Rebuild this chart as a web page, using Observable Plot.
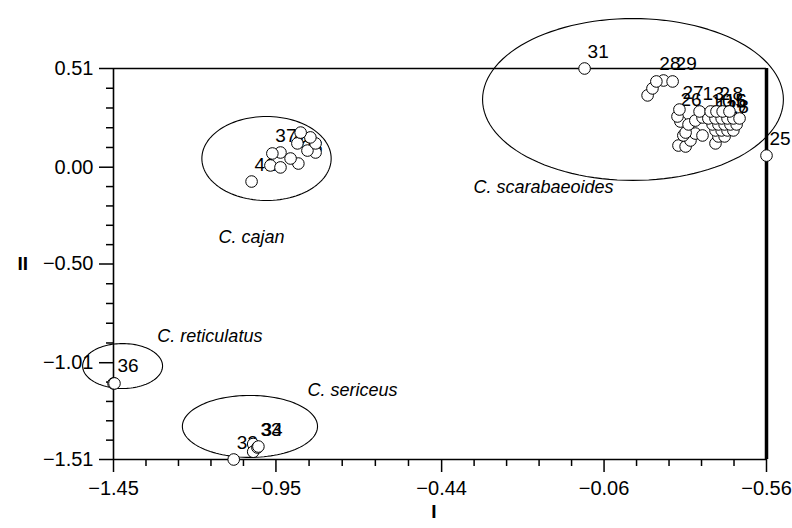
<!DOCTYPE html>
<html><head><meta charset="utf-8">
<script src="https://cdn.jsdelivr.net/npm/d3@7"></script>
<script src="https://cdn.jsdelivr.net/npm/@observablehq/plot@0.6"></script>
<style>html,body{margin:0;padding:0;background:#fff;}</style>
</head><body><div id="chart"></div>
<script>
// Axis ticks
const xTickValues = [-1.45, -0.95, -0.44, 0.06, 0.56];
const xTickLabels = ["\u22121.45", "\u22120.95", "\u22120.44", "\u22120.06", "\u22120.56"];
const yTickValues = [0.51, 0.00, -0.50, -1.01, -1.51];
const yTickLabels = ["0.51", "0.00", "\u22120.50", "\u22121.01", "\u22121.51"];
const xTitle = "I";
const yTitle = "II";

// Accessions (draw order), principal components I and II
const pointId = [
  "","36",
  "32","","","33","34",
  "41","","","38","39","","","","","","","","37",
  "31","25",
  "","","","28","29",
  "","","","","","","","","","","","","26","27",
  "","","","9","","7","12","","18","","","10","","15","","6","","1","3","2","","8"
];
const pointPC1 = [
  -1.45,-1.447,
  -1.08,-1.02,-1.02,-1.007,-1.004,
  -1.025,-0.967,-0.936,-0.881,-0.905,-0.828,-0.853,-0.884,-0.828,-0.844,-0.874,-0.936,-0.961,
  0.00,0.56,
  0.194,0.209,0.243,0.221,0.271,
  0.289,0.311,0.403,0.326,0.304,0.341,0.363,0.311,0.295,0.320,0.341,0.363,0.286,0.292,
  0.412,0.431,0.403,0.422,0.440,0.458,0.394,0.412,0.431,0.449,0.468,0.381,0.403,0.422,0.440,0.458,0.477,0.354,0.388,0.406,0.425,0.446
];
const pointPC2 = [
  -1.117,-1.117,
  -1.51,-1.43,-1.47,-1.448,-1.443,
  -0.074,0.009,-0.001,0.019,0.045,0.076,0.086,0.123,0.123,0.154,0.179,0.076,0.071,
  0.51,0.06,
  0.371,0.407,0.448,0.443,0.443,
  0.112,0.107,0.123,0.138,0.164,0.174,0.164,0.179,0.236,0.221,0.241,0.257,0.262,0.298,
  0.159,0.159,0.190,0.190,0.190,0.190,0.221,0.221,0.221,0.221,0.221,0.252,0.252,0.252,0.252,0.252,0.252,0.288,0.288,0.288,0.288,0.288
];

// Species groups: ellipse centre / radii (in PC units) and label anchor
const groupName = ["C. scarabaeoides", "C. cajan", "C. reticulatus", "C. sericeus"];
const ellipseCx = [0.149, -0.979, -1.422, -1.030];
const ellipseCy = [0.350, 0.045, -1.027, -1.339];
const ellipseRx = [0.463, 0.199, 0.123, 0.208];
const ellipseRy = [0.418, 0.217, 0.116, 0.160];
const labelPC1 = [-0.342, -1.127, -1.315, -0.853];
const labelPC2 = [-0.131, -0.389, -0.905, -1.184];

const points = pointId.map((id, i) => ({id, x: pointPC1[i], y: pointPC2[i]}));
const ellipsePts = groupName.flatMap((g, k) =>
  d3.range(0, 361, 3).map(a => ({g,
    x: ellipseCx[k] + ellipseRx[k] * Math.cos(a * Math.PI / 180),
    y: ellipseCy[k] + ellipseRy[k] * Math.sin(a * Math.PI / 180)})));
const groups = groupName.map((g, k) => ({g, x: labelPC1[k], y: labelPC2[k]}));

function minors(vals) {
  const out = [];
  for (let i = 0; i < vals.length - 1; i++)
    for (let k = 1; k < 5; k++) out.push(vals[i] + (vals[i + 1] - vals[i]) * k / 5);
  return out;
}
const xLab = new Map(xTickValues.map((v, i) => [v, xTickLabels[i]]));
const yLab = new Map(yTickValues.map((v, i) => [v, yTickLabels[i]]));
const xMin = xTickValues[0], xMax = xTickValues[xTickValues.length - 1];
const yMax = yTickValues[0], yMin = yTickValues[yTickValues.length - 1];

const chart = Plot.plot({
  width: 792, height: 528,
  marginLeft: 113, marginRight: 26, marginTop: 68, marginBottom: 69,
  x: {domain: [xMin, xMax]},
  y: {domain: [yMin, yMax]},
  style: {fontFamily: "'Liberation Sans', Arial, sans-serif", background: "#fff", color: "#000", overflow: "visible"},
  marks: [
    Plot.axisX(xTickValues, {tickSize: 13, tickPadding: 8, tickFormat: d => xLab.get(d), fontSize: 20, label: null, strokeWidth: 1.5}),
    Plot.axisX(minors(xTickValues), {tickSize: 7, tickFormat: () => "", label: null, strokeWidth: 1.5}),
    Plot.axisY(yTickValues, {tickSize: 14, tickPadding: 6, tickFormat: d => yLab.get(d), fontSize: 20, label: null, strokeWidth: 1.5}),
    Plot.axisY(minors(yTickValues), {tickSize: 7, tickFormat: () => "", label: null, strokeWidth: 1.5}),
    Plot.ruleX([xMin], {y1: yMin, y2: yMax, strokeWidth: 1.6}),
    Plot.ruleY([yMax], {x1: xMin, x2: xMax, strokeWidth: 1.6}),
    Plot.ruleY([yMin], {x1: xMin, x2: xMax, strokeWidth: 1.6}),
    Plot.ruleX([xMax], {y1: yMin, y2: yMax, strokeWidth: 3.5}),
    Plot.line(ellipsePts, {x: "x", y: "y", z: "g", stroke: "#000", strokeWidth: 1.1}),
    Plot.text(groups, {x: "x", y: "y", text: "g", fontStyle: "italic", fontSize: 18, textAnchor: "start", lineAnchor: "bottom"}),
    ...points.flatMap(p => [
      Plot.dot([p], {x: "x", y: "y", r: 5.8, fill: "#fff", stroke: "#000", strokeWidth: 1}),
      Plot.text([p], {x: "x", y: "y", text: "id", dx: 3, dy: -11, fontSize: 19, textAnchor: "start", lineAnchor: "bottom"})
    ]),
    Plot.text([xTitle], {text: d => d, frameAnchor: "bottom", dx: -6, dy: 58, fontSize: 19, fontWeight: "bold"}),
    Plot.text([yTitle], {text: d => d, frameAnchor: "left", dx: -96, fontSize: 19, fontWeight: "bold"})
  ]
});
document.getElementById("chart").appendChild(chart);
</script>
</body></html>
